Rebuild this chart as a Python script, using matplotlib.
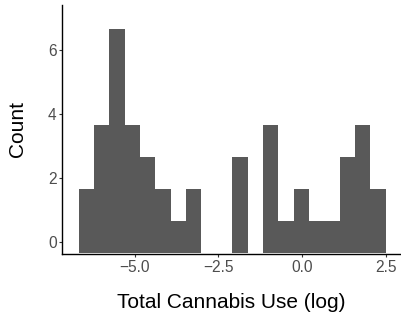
import numpy as np
import matplotlib
matplotlib.use('Agg')
import matplotlib.pyplot as plt

# histogram of log total cannabis use, 20 bins
bin_left = -6.67
bin_width = 0.4585
counts = [2, 4, 7, 4, 3, 2, 1, 2, 0, 0, 3, 0, 4, 1, 2, 1, 1, 3, 4, 2]
xticks = [-5.0, -2.5, 0.0, 2.5]
yticks = [0, 2, 4, 6]

edges = bin_left + bin_width * np.arange(len(counts))

plt.rcParams['font.family'] = ['Liberation Sans', 'DejaVu Sans']

fig = plt.figure(figsize=(4.01, 3.22), dpi=100)
ax = fig.add_axes([0.155, 0.211, 0.843, 0.774])

ax.bar(edges, counts, width=bin_width, bottom=-0.36, align='edge',
       color='#595959', linewidth=0)

ax.set_xlim(-7.16, 2.93)
ax.set_ylim(-0.385, 7.41)
ax.set_xticks(xticks)
ax.set_xticklabels(['\u22125.0', '\u22122.5', '0.0', '2.5'])
ax.set_yticks(yticks)

for s in ['top', 'right']:
    ax.spines[s].set_visible(False)
for s in ['left', 'bottom']:
    ax.spines[s].set_linewidth(1.0)
    ax.spines[s].set_color('black')

ax.tick_params(length=2, width=0.8, colors='#333333', labelsize=11.2,
               labelcolor='#4d4d4d', pad=2)

ax.set_xlabel('Total Cannabis Use (log)', fontsize=15, labelpad=13)
ax.set_ylabel('Count', fontsize=15, labelpad=15)

fig.savefig('out.png', dpi=100)
